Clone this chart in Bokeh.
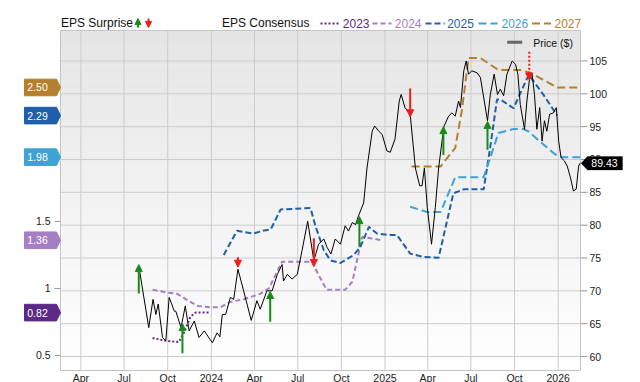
from datetime import datetime
import pandas as pd
from bokeh.plotting import figure
from bokeh.core.properties import value
from bokeh.models import (Range1d, ColumnDataSource, Arrow, NormalHead, Label, PolyAnnotation)
from bokeh.embed import file_html
from bokeh.resources import INLINE

FONT = "Liberation Sans"

# ---------------- data ----------------
price_dates = [
    "2023-08-01", "2023-08-22", "2023-08-31", "2023-09-06", "2023-09-11", "2023-09-20", "2023-09-27",
    "2023-10-04", "2023-10-15", "2023-10-18", "2023-10-29", "2023-11-07", "2023-11-15", "2023-11-26",
    "2023-12-06", "2023-12-17", "2024-01-03", "2024-01-13", "2024-01-19", "2024-01-24", "2024-01-31",
    "2024-02-10", "2024-02-17", "2024-02-26", "2024-03-09", "2024-03-25", "2024-04-06", "2024-04-13",
    "2024-04-27", "2024-05-08", "2024-05-19", "2024-05-29", "2024-06-01", "2024-06-09", "2024-06-19",
    "2024-06-30", "2024-07-10", "2024-07-22", "2024-08-04", "2024-08-14", "2024-08-25", "2024-09-01",
    "2024-09-09", "2024-09-18", "2024-09-29", "2024-10-09", "2024-10-16", "2024-10-24", "2024-10-31",
    "2024-11-06", "2024-11-17", "2024-11-24", "2024-12-05", "2024-12-10", "2024-12-19", "2024-12-26",
    "2025-01-05", "2025-01-12", "2025-01-22", "2025-01-31", "2025-02-04", "2025-02-12", "2025-02-23",
    "2025-03-06", "2025-03-15", "2025-03-20", "2025-03-25", "2025-03-31", "2025-04-09", "2025-04-17",
    "2025-04-24", "2025-05-05", "2025-05-15", "2025-05-22", "2025-05-29", "2025-06-05", "2025-06-09",
    "2025-06-16", "2025-06-21", "2025-06-26", "2025-07-03", "2025-07-14", "2025-07-21", "2025-08-05",
    "2025-08-11", "2025-08-19", "2025-08-26", "2025-09-01", "2025-09-08", "2025-09-15", "2025-09-26",
    "2025-10-03", "2025-10-08", "2025-10-13", "2025-10-22", "2025-10-27", "2025-11-02", "2025-11-07",
    "2025-11-12", "2025-11-17", "2025-11-23", "2025-11-28", "2025-12-03", "2025-12-08", "2025-12-14",
    "2025-12-22", "2025-12-28", "2026-01-02", "2026-01-07", "2026-01-14", "2026-01-20", "2026-01-27",
    "2026-02-02", "2026-02-08", "2026-02-13", "2026-02-16",
]
price_values = [
    73.8, 64.4, 68.7, 66.4, 68.0, 62.9, 62.4,
    69.0, 66.9, 66.9, 64.4, 67.7, 63.9, 65.4,
    62.9, 63.9, 62.1, 63.6, 63.0, 66.4, 66.4,
    69.0, 68.7, 73.3, 70.0, 65.5, 68.5, 67.2,
    70.0, 70.0, 72.5, 74.0, 71.5, 72.5, 71.8,
    72.5, 76.1, 80.6, 74.6, 77.1, 77.9, 76.6,
    75.6, 77.9, 77.1, 79.9, 79.1, 80.4, 80.1,
    81.4, 83.4, 88.7, 94.3, 95.1, 94.3, 93.8,
    91.3, 91.1, 93.1, 98.9, 99.9, 97.9, 96.9,
    88.7, 86.0, 86.0, 88.7, 82.7, 77.1, 82.7,
    88.7, 95.0, 96.6, 97.1, 96.6, 98.9, 97.9,
    103.5, 105.0, 103.0, 103.5, 103.2, 102.5, 95.9,
    99.9, 103.0, 99.9, 100.7, 99.7, 103.0, 105.0,
    104.5, 103.0, 98.4, 94.6, 98.9, 102.5, 103.0,
    99.9, 94.6, 97.9, 92.8, 95.9, 94.3, 96.9,
    97.1, 97.9, 92.8, 90.3, 89.8, 89.0, 87.2,
    85.2, 85.5, 89.0, 89.43,
]

cons2023_dates = ["2023-08-30", "2023-09-27", "2023-10-24", "2023-11-03", "2023-11-18", "2023-11-29", "2023-12-27"]
cons2023_values = [0.63, 0.61, 0.60, 0.66, 0.79, 0.82, 0.82]

cons2024_dates = ["2023-08-30", "2023-09-30", "2023-10-21", "2023-11-08", "2023-12-03", "2023-12-30",
                  "2024-01-20", "2024-02-10", "2024-03-09", "2024-04-13", "2024-05-01", "2024-05-15",
                  "2024-05-29", "2024-07-31", "2024-08-14", "2024-08-31", "2024-10-09", "2024-10-24",
                  "2024-11-14", "2024-12-26"]
cons2024_values = [0.99, 0.97, 0.96, 0.92, 0.87, 0.86, 0.86, 0.90, 0.92, 0.96, 1.00, 1.10,
                   1.20, 1.20, 1.10, 0.99, 0.99, 1.05, 1.385, 1.36]

cons2025_dates = ["2024-01-27", "2024-02-24", "2024-03-13", "2024-03-30", "2024-04-18", "2024-05-05",
                  "2024-05-26", "2024-07-28", "2024-08-07", "2024-08-25", "2024-09-08", "2024-09-29",
                  "2024-10-27", "2024-11-10", "2024-11-28", "2024-12-15", "2025-01-05", "2025-01-26",
                  "2025-02-23", "2025-03-23", "2025-04-24", "2025-05-25", "2025-06-16", "2025-07-28",
                  "2025-08-11", "2025-08-25", "2025-09-01", "2025-09-29", "2025-10-13", "2025-10-31",
                  "2025-12-01", "2025-12-30"]
cons2025_values = [1.25, 1.43, 1.42, 1.41, 1.43, 1.44, 1.59, 1.60, 1.47, 1.285, 1.21, 1.19,
                   1.25, 1.31, 1.46, 1.41, 1.40, 1.40, 1.26, 1.235, 1.23, 1.71, 1.74, 1.74,
                   2.06, 2.41, 2.41, 2.345, 2.457, 2.594, 2.445, 2.29]

cons2026_dates = ["2025-02-23", "2025-03-31", "2025-04-28", "2025-05-29", "2025-07-28", "2025-08-14",
                  "2025-08-28", "2025-09-29", "2025-10-20", "2025-10-31", "2025-11-24", "2025-12-26",
                  "2026-01-09", "2026-02-16"]
cons2026_values = [1.61, 1.57, 1.57, 1.83, 1.83, 2.01, 2.16, 2.19, 2.19, 2.17, 2.095, 2.00, 1.98, 1.98]

cons2027_dates = ["2025-02-26", "2025-04-28", "2025-05-29", "2025-06-12", "2025-06-26", "2025-07-21",
                  "2025-08-28", "2025-10-13", "2025-11-03", "2025-12-30", "2026-02-11"]
cons2027_values = [1.91, 1.91, 2.05, 2.33, 2.72, 2.72, 2.63, 2.63, 2.61, 2.50, 2.50]

surprise_up_dates = ["2023-08-01", "2023-11-01", "2024-05-04", "2024-11-08", "2025-05-04", "2025-08-05"]
surprise_up_from = [69.6, 60.5, 65.3, 76.7, 90.7, 91.5]
surprise_up_to = [74.0, 65.0, 69.9, 81.3, 95.0, 95.8]

surprise_down_dates = ["2024-02-26", "2024-08-04", "2025-02-23"]
surprise_down_from = [75.1, 78.0, 100.8]
surprise_down_to = [73.6, 73.7, 96.5]

surprise_pending_dates = ["2025-11-01"]
surprise_pending_from = [106.4]
surprise_pending_to = [102.1]

badge_labels = ["2.50", "2.29", "1.98", "1.36", "0.82"]
badge_values = [2.50, 2.29, 1.98, 1.36, 0.82]
last_price = 89.43

x_tick_dates = ["2023-04-01", "2023-07-01", "2023-10-01", "2024-01-01", "2024-04-01", "2024-07-01",
                "2024-10-01", "2025-01-01", "2025-04-01", "2025-07-01", "2025-10-01", "2026-01-01"]
x_tick_labels = ["Apr", "Jul", "Oct", "2024", "Apr", "Jul", "Oct", "2025", "Apr", "Jul", "Oct", "2026"]
price_ticks = [60, 65, 70, 75, 80, 85, 90, 95, 100, 105]
price_tick_labels = ["60", "65", "70", "75", "80", "85", "90", "95", "100", "105"]
eps_ticks = [0.5, 1.0, 1.5]
eps_tick_labels = ["0.5", "1", "1.5"]

series_years = ["2023", "2024", "2025", "2026", "2027"]

# ---------------- styling / layout ----------------
C2023, C2024, C2025, C2026, C2027 = "#5b2a86", "#a57fc4", "#1f5eab", "#3ea2d3", "#b57f2e"
GREEN, RED = "#178a17", "#f01c1c"
badge_colors = [C2027, C2025, C2026, C2024, C2023]
GRID = "#cccccc"
TXT = "#222222"

W, H = 640, 382
FL, FR, FT, FB = 60, 580, 30, 370          # plot area in canvas pixels
X_START, X_END = datetime(2023, 2, 17), datetime(2026, 2, 17)
PRICE_LO, PRICE_HI = 57.87, 109.64
EPS_LO, EPS_HI = 0.388, 2.925

SPAN = X_END - X_START


def x_at(px):
    return X_START + (px - FL) / (FR - FL) * SPAN


def xms(px):
    return pd.Timestamp(x_at(px)).value / 1e6


def price_at(py):
    return PRICE_LO + (FB - py) / (FB - FT) * (PRICE_HI - PRICE_LO)


def eps_at(py):
    return EPS_LO + (FB - py) / (FB - FT) * (EPS_HI - EPS_LO)


p = figure(width=W, height=H, x_axis_type="datetime", x_axis_location=None, y_axis_location=None,
           x_range=Range1d(x_at(0), x_at(W)), y_range=Range1d(price_at(H), price_at(0)),
           output_backend="svg", toolbar_location=None, min_border=0)
p.extra_y_ranges = {"eps": Range1d(eps_at(H), eps_at(0))}
p.title.visible = False
p.grid.visible = False
p.outline_line_color = None
p.background_fill_color = "white"
p.border_fill_color = "white"

# plot-area gradient background (light grey at top to white at bottom)
n_strips = 40
edges = [PRICE_LO + (PRICE_HI - PRICE_LO) * i / n_strips for i in range(n_strips + 1)]
strip_cols = []
for i in range(n_strips):
    t = (i + 0.5) / n_strips
    g = int(round(255 - (255 - 229) * t))
    strip_cols.append(f"#{g:02x}{g:02x}{g:02x}")
p.quad(left=X_START, right=X_END, bottom=edges[:-1], top=[e + 0.05 for e in edges[1:]],
       fill_color=strip_cols, line_color=None)

# grid lines
xt = pd.to_datetime(x_tick_dates)
p.segment(x0=xt, y0=PRICE_LO, x1=xt, y1=PRICE_HI, line_color=GRID, line_width=1)
p.segment(x0=X_START, y0=price_ticks, x1=X_END, y1=price_ticks, line_color=GRID, line_width=1)
# frame
p.quad(left=X_START, right=X_END, bottom=PRICE_LO, top=PRICE_HI, fill_color=None,
       line_color="#c4c4c4", line_width=1)

# right (price) axis
p.segment(x0=X_END, y0=price_ticks, x1=x_at(FR + 7), y1=price_ticks, line_color="#999999")
p.text(x=x_at(FR + 9), y=price_ticks, text=price_tick_labels, text_font=value(FONT),
       text_font_size=value("10.5px"), text_color=TXT, text_align="left", text_baseline="middle")
# left (EPS) axis
p.segment(x0=x_at(FL - 6), y0=eps_ticks, x1=X_START, y1=eps_ticks, line_color="#999999",
          y_range_name="eps")
p.text(x=x_at(FL - 10), y=eps_ticks, text=eps_tick_labels, text_font=value(FONT),
       text_font_size=value("10.5px"), text_color=TXT, text_align="right", text_baseline="middle",
       y_range_name="eps")
# bottom (date) axis
p.text(x=xt, y=price_at(FB + 7), text=x_tick_labels, text_font=value(FONT),
       text_font_size=value("10.5px"), text_color=TXT, text_align="center", text_baseline="middle")

# consensus lines
cons = [
    (cons2023_dates, cons2023_values, C2023, "2 2"),
    (cons2024_dates, cons2024_values, C2024, "5 3"),
    (cons2025_dates, cons2025_values, C2025, "6 3"),
    (cons2026_dates, cons2026_values, C2026, "8 4"),
    (cons2027_dates, cons2027_values, C2027, "8 4"),
]
for d, v, c, dash in cons:
    src = ColumnDataSource(dict(x=pd.to_datetime(d), y=v))
    p.line("x", "y", source=src, y_range_name="eps", line_color=c, line_width=2, line_dash=dash)

# price line
psrc = ColumnDataSource(dict(x=pd.to_datetime(price_dates), y=price_values))
p.line("x", "y", source=psrc, line_color="black", line_width=1)

# surprise arrows
for d, f, t, c, dash in [
    (surprise_up_dates, surprise_up_from, surprise_up_to, GREEN, "solid"),
    (surprise_down_dates, surprise_down_from, surprise_down_to, RED, "solid"),
    (surprise_pending_dates, surprise_pending_from, surprise_pending_to, RED, "2 2"),
]:
    src = ColumnDataSource(dict(x=pd.to_datetime(d), y0=f, y1=t))
    p.add_layout(Arrow(x_start="x", y_start="y0", x_end="x", y_end="y1", source=src,
                       line_color=c, line_width=2, line_dash=dash,
                       end=NormalHead(size=7, fill_color=c, line_color=c, line_width=1)))

# left badges (latest EPS consensus per year), drawn as glyphs on the EPS scale
h_eps = 8.3 * (EPS_HI - EPS_LO) / (FB - FT)
bx = [xms(FL - 36), xms(FL - 4), xms(FL), xms(FL - 4), xms(FL - 36)]
p.patches(xs=[bx for _ in badge_values],
          ys=[[v + h_eps, v + h_eps, v, v - h_eps, v - h_eps] for v in badge_values],
          fill_color=badge_colors, line_color=badge_colors, y_range_name="eps")
p.text(x=[x_at(FL - 23)] * len(badge_values), y=badge_values, text=badge_labels,
       text_font=value(FONT), text_font_size=value("10.5px"), text_color="white",
       text_align="center", text_baseline="middle", y_range_name="eps")

# right badge (last price)
h_pr = 6.7 * (PRICE_HI - PRICE_LO) / (FB - FT)
p.add_layout(PolyAnnotation(xs=[FR + 0.5, FR + 7, FR + 42, FR + 42, FR + 7],
                            ys=[last_price, last_price + h_pr, last_price + h_pr,
                                last_price - h_pr, last_price - h_pr],
                            xs_units="screen", ys_units="data",
                            fill_color="black", fill_alpha=1, line_color="black"))
p.add_layout(Label(x=FR + 24, y=last_price, x_units="screen", y_units="data",
                   text=f"{last_price:.2f}", text_color="white", text_font=FONT, text_font_size="10.5px",
                   text_align="center", text_baseline="middle"))

# top legend (screen units, y measured up from the canvas bottom)
LY = H - 22.5


def slabel(x, y, text, color="#111111", size="12px"):
    p.add_layout(Label(x=x, y=y, x_units="screen", y_units="screen", text=text, text_color=color,
                       text_font=FONT, text_font_size=size, text_align="left", text_baseline="middle"))


slabel(60.5, LY, "EPS Surprise")
p.add_layout(Arrow(x_start=137.5, y_start=LY - 4.5, x_end=137.5, y_end=LY + 4.5, start_units="screen",
                   end_units="screen", line_color=GREEN, line_width=2,
                   end=NormalHead(size=6, fill_color=GREEN, line_color=GREEN, line_width=1)))
p.add_layout(Arrow(x_start=148, y_start=LY + 4.5, x_end=148, y_end=LY - 4.5, start_units="screen",
                   end_units="screen", line_color=RED, line_width=2,
                   end=NormalHead(size=6, fill_color=RED, line_color=RED, line_width=1)))
slabel(221.5, LY, "EPS Consensus")
legend_x = [320, 372, 425, 478, 531.5]
legend_tx = [342.3, 394.3, 446.7, 501, 554]
for yr, (d, v, c, dash), lx, tx in zip(series_years, cons, legend_x, legend_tx):
    p.add_layout(Arrow(x_start=lx, y_start=LY - 0.5, x_end=lx + 19, y_end=LY - 0.5, start_units="screen",
                       end_units="screen", end=None, line_color=c, line_width=2, line_dash=dash))
    slabel(tx, LY, yr, color=c)

# price legend
p.add_layout(Arrow(x_start=506.7, y_start=H - 41.7, x_end=521.7, y_end=H - 41.7, start_units="screen",
                   end_units="screen", end=None, line_color="#666666", line_width=3))
slabel(532.7, H - 42.3, "Price ($)", size="10.5px")

open("out.html", "w").write(file_html(p, INLINE))
